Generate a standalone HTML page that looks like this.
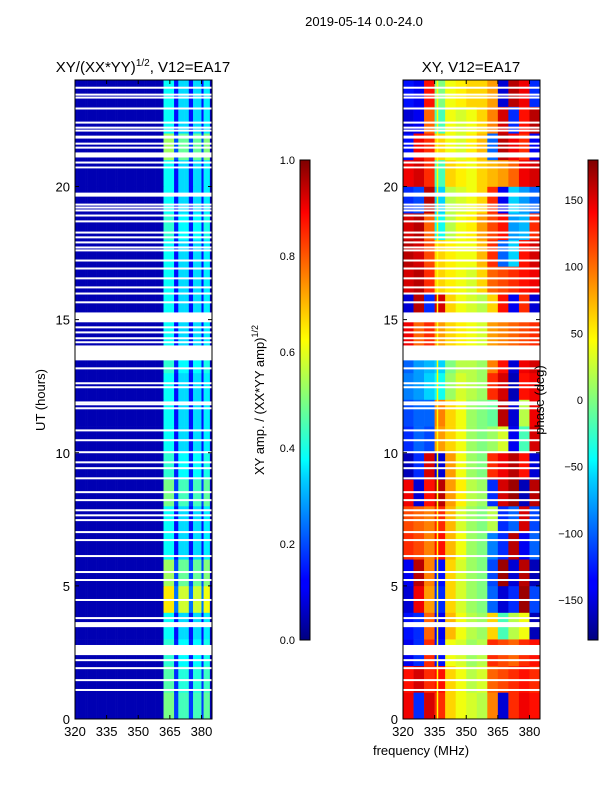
<!DOCTYPE html>
<html><head><meta charset="utf-8"><style>
body{margin:0;background:#fff;}
svg text{font-family:"Liberation Sans",sans-serif;fill:#000;}
</style></head><body>
<svg id="fig" width="600" height="800" xmlns="http://www.w3.org/2000/svg">
<defs>
<linearGradient id="jet" x1="0" y1="1" x2="0" y2="0">
<stop offset="0" stop-color="#00007f"/><stop offset="0.11" stop-color="#0000ff"/><stop offset="0.125" stop-color="#0000ff"/><stop offset="0.34" stop-color="#00d4ff"/><stop offset="0.375" stop-color="#0ff"/><stop offset="0.5" stop-color="#7fff7f"/><stop offset="0.625" stop-color="#ff0"/><stop offset="0.66" stop-color="#ffe000"/><stop offset="0.89" stop-color="#ff0000"/><stop offset="1" stop-color="#7f0000"/>
</linearGradient>
</defs>
<text x="364" y="26" font-size="13" text-anchor="middle">2019-05-14 0.0-24.0</text>
<text x="143" y="72" font-size="15" text-anchor="middle">XY/(XX*YY)<tspan font-size="10" dy="-6">1/2</tspan><tspan dy="6">, V12=EA17</tspan></text>
<text x="471" y="72" font-size="15" text-anchor="middle">XY, V12=EA17</text>
<g id="ampMap"></g>
<g id="phaseMap"></g>
<g id="axes"></g>
<rect x="300" y="160" width="10" height="480" fill="url(#jet)" stroke="#000" stroke-width="1"/>
<rect x="588" y="160" width="10" height="480" fill="url(#jet)" stroke="#000" stroke-width="1"/>
<text transform="translate(264,400) rotate(-90)" font-size="13" text-anchor="middle">XY amp. / (XX*YY amp)<tspan font-size="9" dy="-6">1/2</tspan></text>
<text transform="translate(544,400) rotate(-90)" font-size="13" text-anchor="middle">phase (deg)</text>
<text transform="translate(45,400) rotate(-90)" font-size="13" text-anchor="middle">UT (hours)</text>
<text x="421" y="755" font-size="13" text-anchor="middle">frequency (MHz)</text>
</svg>
<script>
const hours=[0,1,2,3,4,5,6,7,8,9,10,11,12,13,14,15,16,17,18,19,20,21,22,23];
const ampFreqs=[];for(let f=320;f<385;f++)ampFreqs.push(f);
const ampBands=[[362,367,0.38],[367,369,0.14],[369,374,0.34],[374,376,0.14],[376,380,0.34],[380,381,0.14],[381,384,0.36]];
const ampBase=0.05;
const ampHourScale=[1.3,1.2,1.1,1.0,1.7,1.4,1.0,1.0,1.3,1.1,1.0,1.0,1.0,1.1,1.0,1.0,1.0,1.0,1.1,1.0,1.0,1.4,1.0,1.0];
const phaseFreqs=[320,325,330,335,340,345,350,355,360,365,370,375,380];
const phase=[
[140,-120,150,120,60,40,30,20,90,-150,120,140,130],
[130,150,120,130,60,40,20,30,100,110,120,130,120],
[-140,-120,120,-130,40,30,10,20,120,110,100,120,130],
[-130,-120,100,-140,70,40,20,10,60,-20,20,40,-160],
[-150,140,80,-120,60,30,10,0,-100,-150,-120,170,-110],
[-140,160,90,-130,60,30,10,0,-110,170,-150,160,-160],
[120,110,90,130,70,40,10,0,-90,-120,160,-140,-100],
[110,100,90,120,70,30,10,0,20,-120,-100,150,-110],
[140,-150,130,160,80,50,20,10,-120,150,170,-160,160],
[-160,-120,150,-150,80,40,10,0,120,140,160,130,-150],
[-120,-100,-110,80,60,40,10,0,10,30,-140,-20,150],
[-110,-100,-100,90,60,40,10,0,-10,160,-150,20,140],
[-90,-80,-60,-40,10,30,20,10,120,150,-160,130,140],
[-100,-80,-70,-60,0,20,20,10,90,130,-150,140,150],
[140,100,120,80,60,50,40,30,80,90,100,110,120],
[-150,160,-120,150,60,40,30,20,60,130,-140,120,-150],
[150,160,120,60,50,40,30,60,100,110,120,130,140],
[160,150,110,60,50,40,40,70,120,-100,-60,130,150],
[150,160,100,-40,20,40,50,80,110,130,-80,-70,120],
[-120,-110,160,-60,20,30,40,60,120,-140,-60,-80,-100],
[140,150,120,-20,60,50,40,60,70,80,100,140,150],
[-130,140,120,60,40,30,50,70,-100,160,140,120,-140],
[-150,-140,100,-20,40,30,40,60,90,150,-120,130,160],
[-130,-140,130,0,40,50,60,60,80,-150,160,140,-120]];
const thinGaps=[23.71,23.45,23.34,22.93,22.4,22.21,22.1,21.61,21.46,20.9,19.32,19.21,19.1,18.91,18.69,18.27,18.09,17.9,17.71,17.6,17.22,16.92,16.55,16.21,15.98,15.65,14.71,14.52,14.3,14.15,13.17,12.61,12.46,11.89,11.82,11.67,10.84,10.47,10.02,9.64,9.42,9.04,8.52,8.22,7.84,7.65,7.47,7.02,6.72,6.12,5.52,5.22,4.47,3.79,2.21,1.91,1.46,1.09];
const wideGaps=[[21.8,21.91],[21.09,21.28],[20.68,20.75],[19.62,19.77],[14.9,15.27],[13.47,14.03],[3.45,3.64],[2.4,2.78]];
const xTicks=[320,335,350,365,380];
const yTicks=[0,5,10,15,20];
const ampCbTicks=[0.0,0.2,0.4,0.6,0.8,1.0];
const phaseCbTicks=[-150,-100,-50,0,50,100,150];

const NS="http://www.w3.org/2000/svg";
function jet(v){v=Math.max(0,Math.min(1,v));
 const r=Math.max(0,Math.min(1,1.5-Math.abs(4*v-3))),g=Math.max(0,Math.min(1,1.5-Math.abs(4*v-2))),b=Math.max(0,Math.min(1,1.5-Math.abs(4*v-1)));
 return `rgb(${Math.round(r*255)},${Math.round(g*255)},${Math.round(b*255)})`;}
const panels=[{x0:75,x1:212},{x0:403,x1:540}];
const yTop=80,yBot=719;
function X(p,f){return p.x0+(f-320)*(p.x1-p.x0)/65;}
function Y(h){return yBot-h*(yBot-yTop)/24;}
function mk(tag,attrs,parent){const e=document.createElementNS(NS,tag);for(const k in attrs)e.setAttribute(k,attrs[k]);parent.appendChild(e);return e;}
const amp=document.getElementById('ampMap'),ph=document.getElementById('phaseMap'),ax=document.getElementById('axes');
hours.forEach((h,hi)=>{ampFreqs.forEach(f=>{
 let v=ampBase;ampBands.forEach(b=>{if(f>=b[0]&&f<b[1])v=b[2]*ampHourScale[hi];});
 const r=mk('rect',{x:X(panels[0],f),y:Y(h+1),width:X(panels[0],f+1)-X(panels[0],f)+0.3,height:Y(h)-Y(h+1)+0.3,fill:jet(v)},amp);
 
 
});});
hours.forEach((h,hi)=>{phaseFreqs.forEach((f,fi)=>{
 const r=mk('rect',{x:X(panels[1],f),y:Y(h+1),width:X(panels[1],f+5)-X(panels[1],f)+0.3,height:Y(h)-Y(h+1)+0.3,fill:jet((phase[hi][fi]+180)/360)},ph);
 
 
});});
const vl=mk('rect',{x:X(panels[1],336),y:yTop,width:1.5,height:yBot-yTop,fill:'#ff0'},ph);


panels.forEach(p=>{
 thinGaps.forEach(g=>{const r=mk('rect',{x:p.x0,y:Y(g)-1,width:p.x1-p.x0,height:2,fill:'#fff'},ax);
  
  });
 wideGaps.forEach(g=>{const r=mk('rect',{x:p.x0,y:Y(g[1]),width:p.x1-p.x0,height:Y(g[0])-Y(g[1]),fill:'#fff'},ax);
  
  });
 const fr=mk('rect',{x:p.x0,y:yTop,width:p.x1-p.x0,height:yBot-yTop,fill:'none',stroke:'#000','stroke-width':1},ax);
 
 
 xTicks.forEach(t=>{const x=X(p,t);
  mk('line',{x1:x,x2:x,y1:yBot,y2:yBot-4,stroke:'#000'},ax);
  mk('line',{x1:x,x2:x,y1:yTop,y2:yTop+4,stroke:'#000'},ax);
  const tx=mk('text',{x:x,y:yBot+17,'font-size':13,'text-anchor':'middle'},ax);tx.textContent=t;
  
  });
 yTicks.forEach(t=>{const y=Y(t);
  mk('line',{x1:p.x0,x2:p.x0+4,y1:y,y2:y,stroke:'#000'},ax);
  mk('line',{x1:p.x1,x2:p.x1-4,y1:y,y2:y,stroke:'#000'},ax);
  const tx=mk('text',{x:p.x0-5,y:y+5,'font-size':13,'text-anchor':'end'},ax);tx.textContent=t;
  
  });
});
ampCbTicks.forEach(t=>{const y=640-t*480;
 mk('line',{x1:300,x2:303,y1:y,y2:y,stroke:'#000'},ax);
 const tx=mk('text',{x:295,y:y+4,'font-size':11,'text-anchor':'end'},ax);tx.textContent=t.toFixed(1);
 
 });
phaseCbTicks.forEach(t=>{const y=400-t*480/360;
 mk('line',{x1:588,x2:591,y1:y,y2:y,stroke:'#000'},ax);
 const tx=mk('text',{x:583,y:y+4,'font-size':11,'text-anchor':'end'},ax);tx.textContent=(t<0?'\u2212':'')+Math.abs(t);
 
 });
</script>
</body></html>
